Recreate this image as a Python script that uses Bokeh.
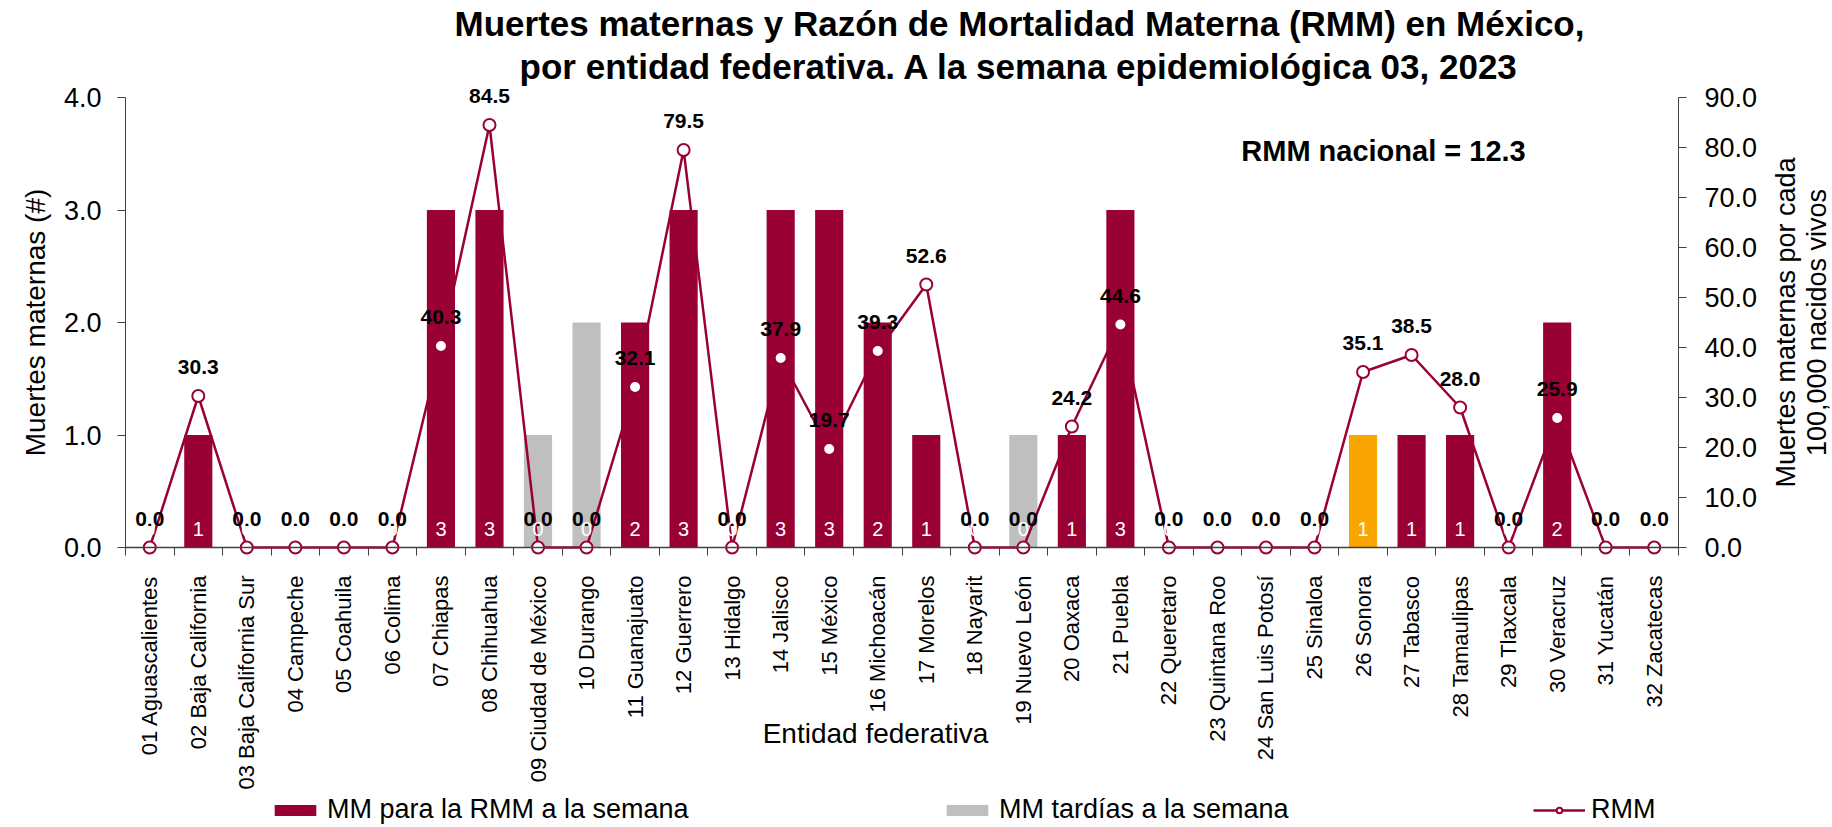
from math import pi
from bokeh.plotting import figure
from bokeh.models import (ColumnDataSource, Range1d, LinearAxis, FixedTicker,
                          PrintfTickFormatter, LabelSet, Label, Legend, LegendItem)
from bokeh.core.properties import value
from bokeh.embed import file_html
from bokeh.resources import INLINE

# ---------------- data ----------------
states = ["01 Aguascalientes", "02 Baja California", "03 Baja California Sur", "04 Campeche",
          "05 Coahuila", "06 Colima", "07 Chiapas", "08 Chihuahua", "09 Ciudad de México",
          "10 Durango", "11 Guanajuato", "12 Guerrero", "13 Hidalgo", "14 Jalisco",
          "15 México", "16 Michoacán", "17 Morelos", "18 Nayarit", "19 Nuevo León",
          "20 Oaxaca", "21 Puebla", "22 Queretaro", "23 Quintana Roo", "24 San Luis Potosí",
          "25 Sinaloa", "26 Sonora", "27 Tabasco", "28 Tamaulipas", "29 Tlaxcala",
          "30 Veracruz", "31 Yucatán", "32 Zacatecas"]
mm_rmm = [0, 1, 0, 0, 0, 0, 3, 3, 0, 0, 2, 3, 0, 3, 3, 2,
          1, 0, 0, 1, 3, 0, 0, 0, 0, 1, 1, 1, 0, 2, 0, 0]
mm_tardias = [0, 0, 0, 0, 0, 0, 0, 0, 1, 2, 0, 0, 0, 0, 0, 0,
              0, 0, 1, 0, 0, 0, 0, 0, 0, 0, 0, 0, 0, 0, 0, 0]
rmm = [0.0, 30.3, 0.0, 0.0, 0.0, 0.0, 40.3, 84.5, 0.0, 0.0, 32.1, 79.5, 0.0, 37.9, 19.7, 39.3,
       52.6, 0.0, 0.0, 24.2, 44.6, 0.0, 0.0, 0.0, 0.0, 35.1, 38.5, 28.0, 0.0, 25.9, 0.0, 0.0]
highlight_state = "26 Sonora"
rmm_nacional = 12.3
left_ticks = [0, 1, 2, 3, 4]
right_ticks = [0, 10, 20, 30, 40, 50, 60, 70, 80, 90]

title_lines = ["Muertes maternas y Razón de Mortalidad Materna (RMM) en México,",
               "por entidad federativa. A la semana epidemiológica 03, 2023"]
x_title = "Entidad federativa"
y_title = "Muertes maternas (#)"
y2_title = ["Muertes maternas por cada", "100,000 nacidos vivos"]
legend_labels = ["MM para la RMM a la semana", "MM tardías a la semana", "RMM"]

# ---------------- style / geometry ----------------
FONT = "Liberation Sans"
CRIMSON = "#990033"
GREY = "#BFBFBF"
ORANGE = "#F9A602"
AXIS = "#404040"

W, H = 1832, 827
# plotting area (axes box) in page pixels
RL, RR, RT, RB = 125, 1678, 97, 547
n = len(states)
XMIN, XMAX = 0.5, n + 0.5
YMAX = left_ticks[-1]
Y2MAX = right_ticks[-1]
SX = (RR - RL) / (XMAX - XMIN)
SY = (RB - RT) / YMAX


def xd(px):
    return XMIN + (px - RL) / SX


def yd(py):
    return (RB - py) / SY


xpos = list(range(1, n + 1))
src = ColumnDataSource(dict(
    x=xpos,
    state=states,
    mm=mm_rmm,
    top2=[a + b for a, b in zip(mm_rmm, mm_tardias)],
    rmm=rmm,
    color=[ORANGE if s == highlight_state else CRIMSON for s in states],
    mm_txt=[str(v) for v in mm_rmm],
    rmm_txt=[f"{v:.1f}" for v in rmm],
))

y0, y1 = yd(H), yd(0)
p = figure(width=W, height=H, output_backend="svg", toolbar_location=None,
           x_range=Range1d(xd(0), xd(W)), y_range=Range1d(y0, y1),
           min_border=0, min_border_left=0, min_border_right=0,
           min_border_top=0, min_border_bottom=0)
p.extra_y_ranges = {"rmm": Range1d(y0 * Y2MAX / YMAX, y1 * Y2MAX / YMAX)}
p.outline_line_color = None
p.xgrid.visible = False
p.ygrid.visible = False

# bars
r_mm = p.vbar(x="x", bottom=0, top="mm", width=0.58, fill_color="color",
              line_color=None, source=src)
r_tard = p.vbar(x="x", bottom="mm", top="top2", width=0.58, fill_color=GREY,
                line_color=None, source=src)
# RMM line
r_line = p.line("x", "rmm", y_range_name="rmm", line_color=CRIMSON, line_width=2.5, source=src)
r_pts = p.scatter("x", "rmm", y_range_name="rmm", marker="circle", size=12,
                  fill_color="white", line_color=CRIMSON, line_width=2, source=src)

rmm_labels = LabelSet(x="x", y="rmm", y_range_name="rmm", text="rmm_txt", source=src,
                      text_align="center", text_baseline="middle", y_offset=29,
                      text_font=value(FONT), text_font_style="bold",
                      text_font_size="21px", text_color="black")
p.add_layout(rmm_labels)
bar_labels = LabelSet(x="x", y=0, text="mm_txt", source=src,
                      text_align="center", text_baseline="middle", y_offset=19,
                      text_font=value(FONT), text_font_size="20px", text_color="white")
p.add_layout(bar_labels)

# x axis (drawn at y = 0)
xa = p.xaxis[0]
xa.fixed_location = 0
xa.bounds = (XMIN, XMAX)
xa.ticker = FixedTicker(ticks=xpos, minor_ticks=[i + 0.5 for i in range(0, n + 1)])
xa.major_label_overrides = {i: s for i, s in zip(xpos, states)}
xa.major_label_orientation = pi / 2
xa.major_label_text_font = FONT
xa.major_label_text_font_size = "22px"
xa.major_label_text_color = "black"
xa.major_label_standoff = 20
xa.major_tick_out = 0
xa.major_tick_in = 0
xa.major_tick_line_color = None
xa.minor_tick_out = 8
xa.minor_tick_in = 0
xa.minor_tick_line_color = AXIS
xa.axis_line_color = AXIS
xa.axis_line_width = 1.5

# left axis (drawn at x = XMIN)
ya = p.yaxis[0]
ya.fixed_location = XMIN
ya.bounds = (0, YMAX)
ya.ticker = FixedTicker(ticks=left_ticks)
ya.formatter = PrintfTickFormatter(format="%.1f")
ya.major_label_text_font = FONT
ya.major_label_text_font_size = "27px"
ya.major_label_text_color = "black"
ya.major_label_standoff = 16
ya.major_tick_out = 8
ya.major_tick_in = 0
ya.minor_tick_line_color = None
ya.major_tick_line_color = AXIS
ya.axis_line_color = AXIS
ya.axis_label = y_title
ya.axis_label_text_font = FONT
ya.axis_label_text_font_size = "28px"
ya.axis_label_text_font_style = "normal"
ya.axis_label_text_color = "black"
ya.axis_label_standoff = 10

# right axis (drawn at x = XMAX)
ra = LinearAxis(y_range_name="rmm", ticker=FixedTicker(ticks=right_ticks),
                formatter=PrintfTickFormatter(format="%.1f"),
                fixed_location=XMAX, bounds=(0, Y2MAX))
ra.major_label_text_font = FONT
ra.major_label_text_font_size = "27px"
ra.major_label_text_color = "black"
ra.major_label_standoff = 18
ra.major_tick_out = 8
ra.major_tick_in = 0
ra.minor_tick_line_color = None
ra.major_tick_line_color = AXIS
ra.axis_line_color = AXIS
p.add_layout(ra, "right")

# right axis title (two lines)
for txt, px in zip(y2_title, [1785, 1816]):
    p.add_layout(Label(x=xd(px), y=yd(322), text=txt, angle=pi / 2,
                       text_align="center", text_baseline="middle",
                       text_font=FONT, text_font_size="27px", text_color="black"))

# title
for txt, py in zip(title_lines, [23, 66]):
    p.add_layout(Label(x=xd(1019), y=yd(py), text=txt,
                       text_align="center", text_baseline="middle",
                       text_font=FONT, text_font_style="bold",
                       text_font_size="35px", text_color="black"))

# x axis title
p.add_layout(Label(x=xd(875), y=yd(733), text=x_title,
                   text_align="center", text_baseline="middle",
                   text_font=FONT, text_font_size="28px", text_color="black"))

# national RMM
p.add_layout(Label(x=xd(1383), y=yd(150), text=f"RMM nacional = {rmm_nacional}",
                   text_align="center", text_baseline="middle",
                   text_font=FONT, text_font_style="bold",
                   text_font_size="29px", text_color="black"))

# legends (one per item, placed independently)
leg_items = [[r_mm], [r_tard], [r_line, r_pts]]
leg_left = [269, 941, 1533]
for lab, rends, lx in zip(legend_labels, leg_items, leg_left):
    lg = Legend(items=[LegendItem(label=lab, renderers=rends, index=0)],
                location=(lx, H - 825), orientation="horizontal",
                padding=0, margin=0, border_line_color=None,
                background_fill_alpha=0, glyph_width=52, glyph_height=14,
                label_standoff=6, label_text_font=FONT, label_text_font_size="27px",
                label_text_color="black", label_text_baseline="middle")
    p.add_layout(lg, "center")

open("out.html", "w").write(file_html(p, INLINE))
